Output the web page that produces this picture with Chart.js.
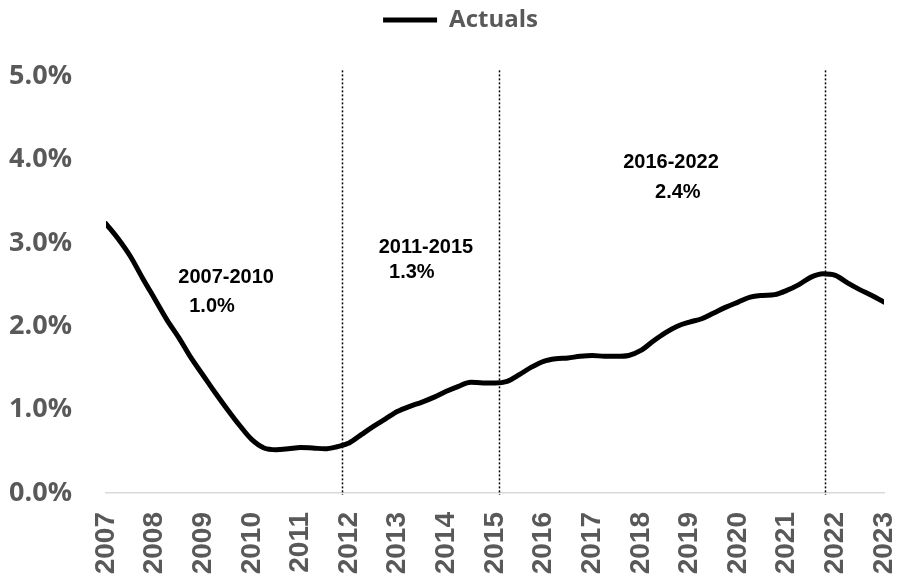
<!DOCTYPE html>
<html>
<head>
<meta charset="utf-8">
<script src="https://cdn.jsdelivr.net/npm/chart.js@4/dist/chart.umd.min.js"></script>
<style>
  html, body { margin: 0; padding: 0; background: #fff; }
  #wrap { width: 897px; height: 582px; position: relative; }
</style>
</head>
<body>
<div id="wrap"><canvas id="chart"></canvas></div>
<script>
// quarterly points, year as decimal
var dates = [
  2007.00, 2007.25, 2007.50, 2007.75, 2008.00, 2008.25, 2008.50, 2008.75,
  2009.00, 2009.25, 2009.50, 2009.75, 2010.00, 2010.25, 2010.50, 2010.75,
  2011.00, 2011.25, 2011.50, 2011.75, 2012.00, 2012.25, 2012.50, 2012.75,
  2013.00, 2013.25, 2013.50, 2013.75, 2014.00, 2014.25, 2014.50, 2014.75,
  2015.00, 2015.25, 2015.50, 2015.75, 2016.00, 2016.25, 2016.50, 2016.75,
  2017.00, 2017.25, 2017.50, 2017.75, 2018.00, 2018.25, 2018.50, 2018.75,
  2019.00, 2019.25, 2019.50, 2019.75, 2020.00, 2020.25, 2020.50, 2020.75,
  2021.00, 2021.25, 2021.50, 2021.75, 2022.00, 2022.25, 2022.50, 2022.75,
  2023.00
];
var actuals = [
  3.23, 3.05, 2.84, 2.58, 2.33, 2.08, 1.86, 1.62,
  1.41, 1.20, 1.00, 0.81, 0.64, 0.54, 0.52, 0.53,
  0.545, 0.54, 0.53, 0.555, 0.60, 0.70, 0.80, 0.89,
  0.98, 1.04, 1.09, 1.15, 1.22, 1.28, 1.33, 1.32,
  1.32, 1.34, 1.42, 1.51, 1.58, 1.61, 1.62, 1.64,
  1.65, 1.64, 1.64, 1.65, 1.71, 1.82, 1.92, 2.00,
  2.05, 2.09, 2.16, 2.23, 2.29, 2.35, 2.37, 2.38,
  2.43, 2.50, 2.59, 2.63, 2.61, 2.52, 2.44, 2.37,
  2.29
];
var yearTicks = [2007, 2008, 2009, 2010, 2011, 2012, 2013, 2014, 2015,
                 2016, 2017, 2018, 2019, 2020, 2021, 2022, 2023];
var yTicks = [0, 1, 2, 3, 4, 5];
var breaks = [2011.86, 2015.08, 2021.79];
var periods = ['2007-2010', '2011-2015', '2016-2022'];
var averages = ['1.0%', '1.3%', '2.4%'];

// where the period notes sit (year, value) for the title line and the number line
var notePos = [
  [[2009.47, 2.58], [2009.18, 2.24]],
  [[2013.58, 2.94], [2013.29, 2.64]],
  [[2018.62, 3.96], [2018.76, 3.60]]
];

var gray = '#595959';

var periodsPlugin = {
  id: 'periods',
  beforeDatasetsDraw: function (chart) {
    var ctx = chart.ctx, xs = chart.scales.x, ys = chart.scales.y;
    ctx.save();
    ctx.strokeStyle = '#000';
    ctx.lineWidth = 1.5;
    ctx.setLineDash([2, 2]);
    breaks.forEach(function (b) {
      var px = Math.round(xs.getPixelForValue(b)) + 0.5;
      ctx.beginPath();
      ctx.moveTo(px, ys.getPixelForValue(5.07));
      ctx.lineTo(px, ys.getPixelForValue(0) + 2);
      ctx.stroke();
    });
    ctx.restore();
  },
  afterDatasetsDraw: function (chart) {
    var ctx = chart.ctx, xs = chart.scales.x, ys = chart.scales.y;
    ctx.save();
    ctx.fillStyle = '#000';
    ctx.font = 'bold 20px "Liberation Sans", Arial, sans-serif';
    ctx.textAlign = 'center';
    ctx.textBaseline = 'middle';
    periods.forEach(function (p, i) {
      var a = notePos[i][0], b = notePos[i][1];
      ctx.fillText(p, xs.getPixelForValue(a[0]), ys.getPixelForValue(a[1]));
      ctx.fillText(averages[i], xs.getPixelForValue(b[0]), ys.getPixelForValue(b[1]));
    });
    ctx.restore();
  }
};

var chart = new Chart(document.getElementById('chart'), {
  type: 'line',
  data: {
    datasets: [{
      label: 'Actuals',
      data: dates.map(function (d, i) { return { x: d, y: actuals[i] }; }),
      borderColor: '#000',
      backgroundColor: '#000',
      borderWidth: 5,
      borderCapStyle: 'round',
      borderJoinStyle: 'round',
      pointRadius: 0,
      tension: 0.4,
      cubicInterpolationMode: 'monotone'
    }]
  },
  options: {
    responsive: true,
    maintainAspectRatio: false,
    animation: false,
    layout: { padding: { left: 0, right: -24, top: 8, bottom: 0 } },
    plugins: {
      legend: {
        position: 'top',
        labels: {
          usePointStyle: true,
          pointStyle: 'line',
          pointStyleWidth: 54,
          boxHeight: 5,
          color: gray,
          font: { family: '"Open Sans", sans-serif', size: 24, weight: 'bold' },
          padding: 0
        }
      },
      // blank spacer between the legend and the plot
      title: {
        display: true,
        text: ' ',
        position: 'top',
        weight: 500,
        font: { size: 1 },
        padding: { top: 0, bottom: 33 }
      },
      tooltip: { enabled: false }
    },
    scales: {
      x: {
        type: 'linear',
        min: 2007,
        max: 2023,
        afterBuildTicks: function (axis) {
          axis.ticks = yearTicks.map(function (v) { return { value: v }; });
        },
        afterFit: function (axis) {
          axis.height = 89;
          axis.paddingLeft = 0;
          axis.paddingRight = 13;
        },
        grid: { display: false, drawTicks: false },
        border: { display: true, color: '#d9d9d9', width: 1.5 },
        ticks: {
          minRotation: 90,
          maxRotation: 90,
          padding: 19,
          color: gray,
          font: { family: '"Liberation Sans", Arial, sans-serif', size: 28, weight: 'bold' },
          callback: function (v) { return String(v); }
        }
      },
      y: {
        min: 0,
        max: 5,
        afterBuildTicks: function (axis) {
          axis.ticks = yTicks.map(function (v) { return { value: v }; });
        },
        afterFit: function (axis) {
          axis.width = 106;
          axis.paddingTop = 0;
          axis.paddingBottom = 0;
        },
        grid: { display: false, drawTicks: false },
        border: { display: false },
        ticks: {
          padding: 34,
          color: gray,
          font: { family: '"Open Sans", sans-serif', size: 27, weight: 'bold' },
          callback: function (v) { return v.toFixed(1) + '%'; }
        }
      }
    }
  },
  plugins: [periodsPlugin]
});
</script>
</body>
</html>
